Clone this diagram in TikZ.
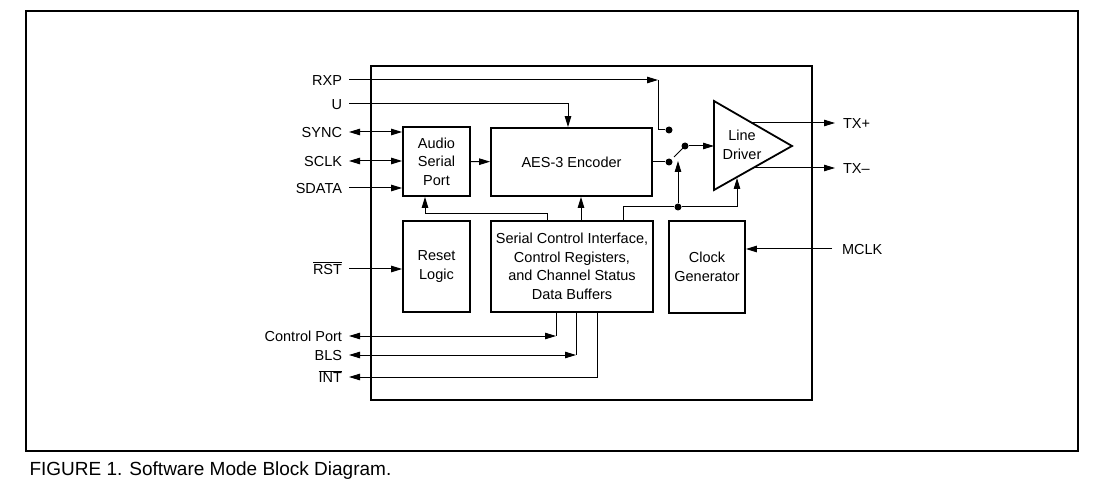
\documentclass[tikz,border=0pt]{standalone}
\usepackage{fontspec}
\setmainfont{Liberation Sans}
\usetikzlibrary{arrows.meta}

\begin{document}
\begin{tikzpicture}[x=1pt,y=-1pt,
	every node/.style={font=\fontsize{14.5}{18.5}\selectfont},
	>={Triangle[length=11pt,width=6.5pt]},
	blk/.style={draw,line width=1.8pt,inner sep=0pt,align=center},
	inlbl/.style={anchor=east,inner sep=0pt,outer xsep=7pt,text height=10.4pt,text depth=0pt},
	outlbl/.style={anchor=west,inner sep=0pt,outer xsep=8pt,text height=10.4pt,text depth=0pt},
	sig/.style={line width=1pt},
	jdot/.style={circle,fill,inner sep=0pt,minimum size=7pt}]
	\useasboundingbox (0,0) rectangle (1095,486);
	\draw[line width=1.8pt] (26,11) rectangle (1078,451);
	\node[anchor=base west,font=\fontsize{19}{22}\selectfont] (cap) at (26,475) {FIGURE 1. Software Mode Block Diagram.};
	\draw[line width=2pt] (371,66) rectangle (812,400);

	\node[blk,minimum width=67pt,minimum height=69pt] (asp) at (436.5,161.5) {Audio\\Serial\\Port};
	\node[blk,minimum width=161pt,minimum height=68pt] (enc) at (571.5,162) {AES-3 Encoder};
	\node[blk,minimum width=67pt,minimum height=91pt] (rst) at (436.5,266.5) {Reset\\Logic};
	\node[blk,minimum width=162pt,minimum height=91pt] (sci) at (572,266.5) {Serial Control Interface,\\Control Registers,\\and Channel Status\\Data Buffers};
	\node[blk,minimum width=76pt,minimum height=92pt] (clk) at (707,267) {Clock\\Generator};

	\coordinate (d1) at (714,101);
	\coordinate (d2) at (792,146);
	\coordinate (d3) at (714,190);
	\coordinate (dbot) at (737,178);
	\draw[line width=1.8pt,line join=miter] (d1) -- (d2) -- (d3) -- cycle;
	\node[align=center] (drv) at (742,145) {Line\\Driver};

	\node[inlbl] (rxp) at (349,80) {RXP};
	\node[inlbl] (u) at (349,104) {U};
	\node[inlbl] (sync) at (349,132) {SYNC};
	\node[inlbl] (sclk) at (349,161) {SCLK};
	\node[inlbl] (sdata) at (349,188) {SDATA};
	\node[inlbl] (rstn) at (349,269) {$\overline{\hbox{RST}}$};
	\node[inlbl] (cport) at (349,336) {Control Port};
	\node[inlbl] (bls) at (349,355) {BLS};
	\node[inlbl] (intn) at (349,377) {$\overline{\hbox{INT}}$};
	\node[outlbl] (txp) at (835,123) {TX+};
	\node[outlbl] (txm) at (835,168) {TX–};
	\node[outlbl,outer xsep=10pt] (mclk) at (832,249) {MCLK};

	\node[jdot] (sw1) at (669,130) {};
	\node[jdot] (sw0) at (669,162) {};
	\node[jdot] (swp) at (685,146) {};
	\node[jdot] (jn) at (678,207) {};
	\coordinate (arm) at (674,157);
	\coordinate (swc) at (678,161);
	\coordinate (rxc) at (658,80);
	\coordinate (t1) at (752,123);
	\coordinate (t2) at (753,168);
	\coordinate (c1) at ([xshift=-16pt]sci.south);
	\coordinate (c2) at ([xshift=4pt]sci.south);
	\coordinate (c3) at ([xshift=25pt]sci.south);

	\draw[sig,->] (rxp) -- (rxc);
	\draw[sig] (rxc) |- (sw1);
	\draw[sig,->] (u) -| ([xshift=-3.5pt]enc.north);
	\draw[sig,<->] (sync) -- (sync -| asp.west);
	\draw[sig,<->] (sclk) -- (sclk -| asp.west);
	\draw[sig,->] (sdata) -- (sdata -| asp.west);
	\draw[sig,->] (asp) -- (enc);
	\draw[sig] (enc.east) -- (sw0);
	\draw[sig] (swp.center) -- (arm);
	\draw[sig,->] (swp) -- (swp -| d1);
	\draw[sig,->] (t1) -- (txp);
	\draw[sig,->] (t2) -- (txm);
	\draw[sig,->] (rstn) -- (rstn -| rst.west);
	\draw[sig,->] (mclk) -- (mclk -| clk.east);
	\draw[sig,->] ([xshift=-25pt]sci.north) -- ++(0,-7) -| ([xshift=-11.5pt]asp.south);
	\draw[sig,->] ([xshift=9pt]sci.north) -- ([xshift=9pt]sci.north |- enc.south);
	\draw[sig] ([xshift=51pt]sci.north) |- (jn);
	\draw[sig,->] (jn) -| (dbot);
	\draw[sig,->] (jn) -- (swc);
	\draw[sig,<->] (cport) -- (cport -| c1);
	\draw[sig] (c1) -- (cport -| c1);
	\draw[sig,<->] (bls) -- (bls -| c2);
	\draw[sig] (c2) -- (bls -| c2);
	\draw[sig,->] (c3) |- (intn);
\end{tikzpicture}
\end{document}
